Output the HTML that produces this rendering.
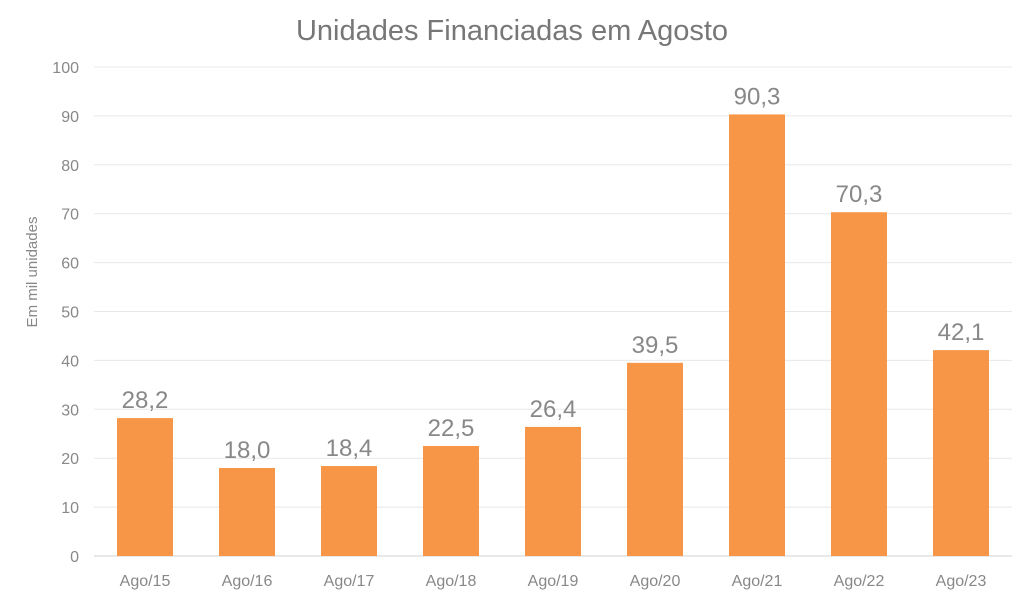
<!DOCTYPE html>
<html><head><meta charset="utf-8"><style>
body{margin:0;background:#fff;}
svg text{font-family:"Liberation Sans",sans-serif;}
</style></head><body>
<svg id="chart" width="1024" height="602" viewBox="0 0 1024 602" xmlns="http://www.w3.org/2000/svg">
<rect width="1024" height="602" fill="#fff"/>
<text x="512" y="40" text-anchor="middle" font-size="29" fill="#777">Unidades Financiadas em Agosto</text>
<text transform="translate(37,272) rotate(-90)" text-anchor="middle" font-size="15" fill="#888">Em mil unidades</text>
<g id="grid"></g><g id="bars"></g><g id="labels"></g>
</svg>
<script>
const categories=["Ago/15","Ago/16","Ago/17","Ago/18","Ago/19","Ago/20","Ago/21","Ago/22","Ago/23"];
const values=[28.2,18.0,18.4,22.5,26.4,39.5,90.3,70.3,42.1];
const yTicks=[0,10,20,30,40,50,60,70,80,90,100];
const ns="http://www.w3.org/2000/svg";
const L=94,R=1012,Y0=556,Y100=67;
const y=v=>Y0-(Y0-Y100)*v/100;
const band=(R-L)/categories.length;
const xc=i=>L+band*(i+0.5);
const bw=56;
function mk(t,a,p){const e=document.createElementNS(ns,t);for(const k in a)e.setAttribute(k,a[k]);p.appendChild(e);return e;}
const grid=document.getElementById('grid'),bars=document.getElementById('bars'),labels=document.getElementById('labels');
yTicks.forEach(t=>{
  const l=mk('line',{x1:L,x2:R,y1:y(t),y2:y(t),stroke:t===0?'#d0d0d0':'#e8e8e8','stroke-width':1},grid);
  
  
  const tx=mk('text',{x:79,y:y(t)+6,'text-anchor':'end','font-size':16,fill:'#888'},grid);
  tx.textContent=t;
  
  
});
categories.forEach((c,i)=>{
  const r=mk('rect',{x:xc(i)-bw/2,y:y(values[i]),width:bw,height:Y0-y(values[i]),fill:'#F79646'},bars);
  
  
  const v=mk('text',{x:xc(i),y:y(values[i])-10,'text-anchor':'middle','font-size':24,fill:'#888'},labels);
  v.textContent=values[i].toFixed(1).replace('.',',');
  
  
  const cx=mk('text',{x:xc(i),y:586,'text-anchor':'middle','font-size':16,fill:'#888'},labels);
  cx.textContent=c;
  
  
});
</script>
</body></html>
